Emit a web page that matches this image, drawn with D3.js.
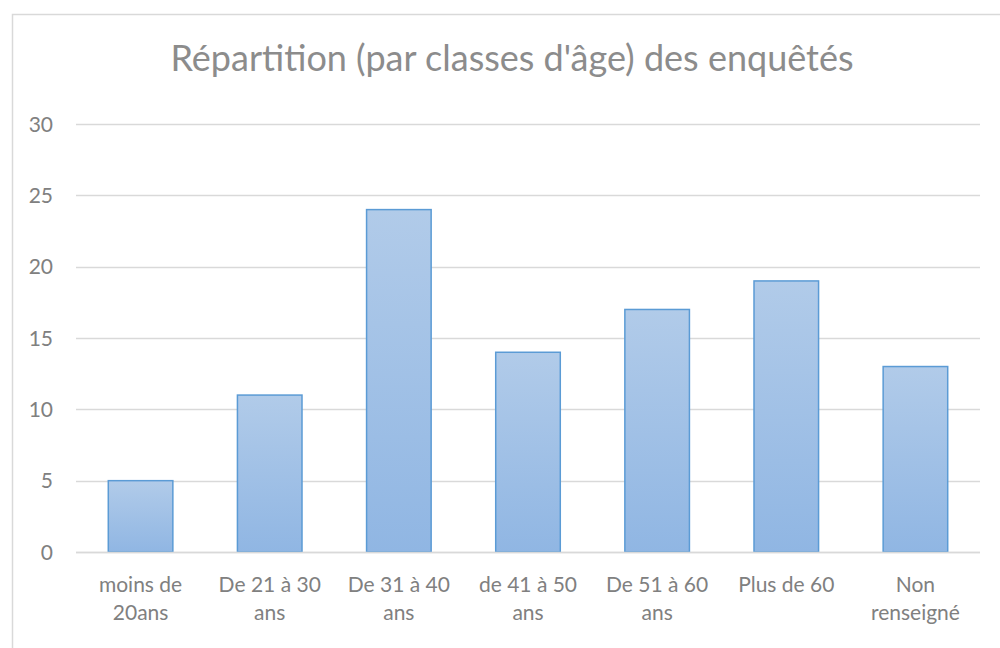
<!DOCTYPE html>
<html>
<head>
<meta charset="utf-8">
<script src="https://cdn.jsdelivr.net/npm/d3@7"></script>
<style>
  body { margin: 0; background: #fff; }
  svg { display: block; }
</style>
</head>
<body>
<svg class="chart" width="1000" height="648"></svg>
<script>
var categories = [["moins de", "20ans"], ["De 21 à 30", "ans"], ["De 31 à 40", "ans"],
                  ["de 41 à 50", "ans"], ["De 51 à 60", "ans"], ["Plus de 60"], ["Non", "renseigné"]];
var values = [5, 11, 24, 14, 17, 19, 13];
var yTicks = [0, 5, 10, 15, 20, 25, 30];
var title = "Répartition (par classes d'âge) des enquêtés";

var svg = d3.select("svg.chart");
var font = "Lato, 'Open Sans', sans-serif";

// frame
svg.append("rect")
    .attr("x", 12.5).attr("y", 14.5)
    .attr("width", 1000).attr("height", 700)
    .attr("fill", "#fff")
    .attr("stroke", "#d9d9d9")
    .attr("stroke-width", 1.5);

var defs = svg.append("defs");
var grad = defs.append("linearGradient")
    .attr("id", "barGrad")
    .attr("x1", 0).attr("y1", 0).attr("x2", 0).attr("y2", 1);
grad.append("stop").attr("offset", "0%").attr("stop-color", "#b1cbe9");
grad.append("stop").attr("offset", "100%").attr("stop-color", "#90b6e3");

var plotLeft = 76, plotRight = 980, plotTop = 124, plotBottom = 552;

var x = d3.scaleBand()
    .domain(d3.range(values.length))
    .range([plotLeft, plotRight])
    .paddingInner(0.5)
    .paddingOuter(0.25);

var y = d3.scaleLinear()
    .domain([0, 30])
    .range([plotBottom, plotTop]);

// gridlines
svg.selectAll(".grid")
    .data(yTicks)
    .enter()
        .append("line")
        .attr("class", "grid")
        .attr("x1", plotLeft).attr("x2", plotRight)
        .attr("y1", function(d) { return Math.round(y(d)) + 0.5; })
        .attr("y2", function(d) { return Math.round(y(d)) + 0.5; })
        .attr("stroke", "#d9d9d9")
        .attr("stroke-width", 1.3);

// y labels
svg.selectAll(".ylab")
    .data(yTicks)
    .enter()
        .append("text")
        .attr("class", "ylab")
        .attr("x", 53)
        .attr("y", function(d) { return y(d); })
        .attr("dy", "0.36em")
        .attr("text-anchor", "end")
        .attr("font-family", font)
        .attr("font-size", "21px")
        .attr("fill", "#808080")
        .text(function(d) { return d; });

// bars
svg.selectAll(".bar")
    .data(values)
    .enter()
        .append("rect")
        .attr("class", "bar")
        .attr("x", function(d, i) { return x(i); })
        .attr("y", function(d) { return y(d); })
        .attr("width", x.bandwidth())
        .attr("height", function(d) { return plotBottom - y(d); })
        .attr("fill", "url(#barGrad)")
        .attr("stroke", "#5b9bd5")
        .attr("stroke-width", 1.5);

// baseline over bars
svg.append("line")
    .attr("x1", plotLeft).attr("x2", plotRight)
    .attr("y1", Math.round(y(0)) + 0.5).attr("y2", Math.round(y(0)) + 0.5)
    .attr("stroke", "#d9d9d9")
    .attr("stroke-width", 1.3);

// category labels
var cat = svg.selectAll(".cat")
    .data(categories)
    .enter()
        .append("text")
        .attr("class", "cat")
        .attr("text-anchor", "middle")
        .attr("font-family", font)
        .attr("font-size", "21px")
        .attr("fill", "#808080");

cat.selectAll("tspan")
    .data(function(d, i) { return d.map(function(s) { return { s: s, i: i }; }); })
    .enter()
        .append("tspan")
        .attr("x", function(d) { return x(d.i) + x.bandwidth() / 2; })
        .attr("y", function(d, j) { return 592 + j * 28; })
        .text(function(d) { return d.s; });

// title
svg.append("text")
    .attr("x", 512)
    .attr("y", 71)
    .attr("text-anchor", "middle")
    .attr("font-family", font)
    .attr("font-size", "36px")
    .attr("fill", "#8c8c8c")
    .text(title);
</script>
</body>
</html>
